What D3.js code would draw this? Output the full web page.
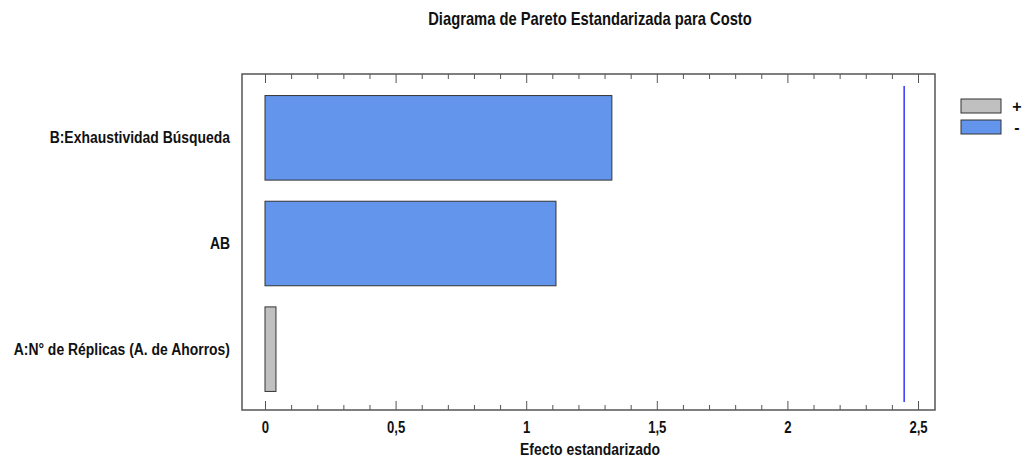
<!DOCTYPE html>
<html>
<head>
<meta charset="utf-8">
<script src="https://cdn.jsdelivr.net/npm/d3@7"></script>
<style>
  body { margin: 0; background: #fff; }
  text { font-family: "Liberation Sans", Arial, sans-serif; font-weight: bold; fill: #111; }
</style>
</head>
<body>
<div id="chart"></div>
<script>
// Data
const factors = ['B:Exhaustividad Búsqueda', 'AB', 'A:N° de Réplicas (A. de Ahorros)'];
const effects = [1.328, 1.114, 0.042];
const signs = ['-', '-', '+'];
const criticalValue = 2.4469;
const xTicks = [0, 0.5, 1, 1.5, 2, 2.5];
const legendItems = ['+', '-'];

function drawChart() {
  const width = 1028, height = 462;
  const frame = { left: 242, right: 935, top: 74, bottom: 410 };
  const colors = { '+': '#c0c0c0', '-': '#6495ed' };
  const squeeze = 0.82; // the original text is a condensed face

  const svg = d3.select('#chart').append('svg')
    .attr('width', width)
    .attr('height', height);

  const x = d3.scaleLinear()
    .domain([0, 2.5])
    .range([265, 918]);

  const y = d3.scaleBand()
    .domain(factors)
    .range([frame.top + 11, frame.bottom - 8])
    .paddingInner(0.2)
    .paddingOuter(0.1);

  // condensed text helper
  const label = (tx, ty, str, size, anchor) => svg.append('g')
    .attr('transform', `translate(${tx},${ty}) scale(${squeeze},1)`)
    .append('text')
    .attr('text-anchor', anchor || 'middle')
    .style('font-size', size + 'px')
    .text(str);

  // Title
  label(590, 25, 'Diagrama de Pareto Estandarizada para Costo', 18);

  // Frame
  svg.append('rect')
    .attr('x', frame.left)
    .attr('y', frame.top)
    .attr('width', frame.right - frame.left)
    .attr('height', frame.bottom - frame.top)
    .attr('fill', 'none')
    .attr('stroke', '#555')
    .attr('stroke-width', 1.5);

  // Ticks: minor every 0.1, major every 0.5, on top and bottom, pointing inward
  const minor = d3.range(0, 2.51, 0.1).map(v => +v.toFixed(1));
  const bottomAxis = svg.append('g')
    .attr('transform', `translate(0,${frame.bottom})`)
    .call(d3.axisTop(x).tickValues(minor).tickSize(5).tickFormat(''));
  const topAxis = svg.append('g')
    .attr('transform', `translate(0,${frame.top})`)
    .call(d3.axisBottom(x).tickValues(minor).tickSize(5).tickFormat(''));
  [bottomAxis, topAxis].forEach(a => {
    a.select('.domain').remove();
    a.selectAll('line').attr('stroke', '#555');
    a.selectAll('.tick').filter(d => xTicks.includes(d)).select('line')
      .attr('y2', a === bottomAxis ? -9 : 9);
  });

  // Tick labels
  const labelAxis = svg.append('g')
    .attr('transform', `translate(0,${frame.bottom})`)
    .call(d3.axisBottom(x).tickValues(xTicks).tickSize(0)
      .tickFormat(d => String(d).replace('.', ',')));
  labelAxis.select('.domain').remove();
  labelAxis.selectAll('text')
    .attr('y', 23)
    .attr('dy', 0)
    .attr('transform', `scale(${squeeze},1)`)
    .attr('fill', '#111')
    .style('font-size', '16px')
    .style('font-family', '"Liberation Sans", Arial, sans-serif')
    .style('font-weight', 'bold');

  // Axis title
  label(590, 455, 'Efecto estandarizado', 17);

  // Category labels
  const yAxis = svg.append('g')
    .attr('transform', `translate(${frame.left - 12},0)`)
    .call(d3.axisLeft(y).tickSize(0).tickPadding(0));
  yAxis.select('.domain').remove();
  yAxis.selectAll('text')
    .attr('transform', `scale(${squeeze},1)`)
    .attr('fill', '#111')
    .style('font-size', '17px')
    .style('font-family', '"Liberation Sans", Arial, sans-serif')
    .style('font-weight', 'bold');

  // Bars
  svg.selectAll('.bar')
    .data(factors)
    .enter().append('rect')
    .attr('class', 'bar')
    .attr('x', x(0))
    .attr('y', d => y(d))
    .attr('width', (d, i) => x(effects[i]) - x(0))
    .attr('height', y.bandwidth())
    .attr('fill', (d, i) => colors[signs[i]])
    .attr('stroke', '#333')
    .attr('stroke-width', 1);

  // Critical line
  svg.append('line')
    .attr('x1', x(criticalValue))
    .attr('x2', x(criticalValue))
    .attr('y1', frame.top + 12)
    .attr('y2', frame.bottom - 8)
    .attr('stroke', '#0000ff')
    .attr('stroke-width', 1.2);

  // Legend
  const legend = svg.append('g')
    .attr('transform', 'translate(961,99)');
  legendItems.forEach((s, i) => {
    legend.append('rect')
      .attr('x', 0)
      .attr('y', i * 21)
      .attr('width', 40)
      .attr('height', 14)
      .attr('fill', colors[s])
      .attr('stroke', '#333');
    legend.append('text')
      .attr('x', 56)
      .attr('y', i * 21 + 7)
      .attr('dy', '0.35em')
      .attr('text-anchor', 'middle')
      .style('font-size', '16px')
      .text(s);
  });
}

drawChart();
</script>
</body>
</html>
